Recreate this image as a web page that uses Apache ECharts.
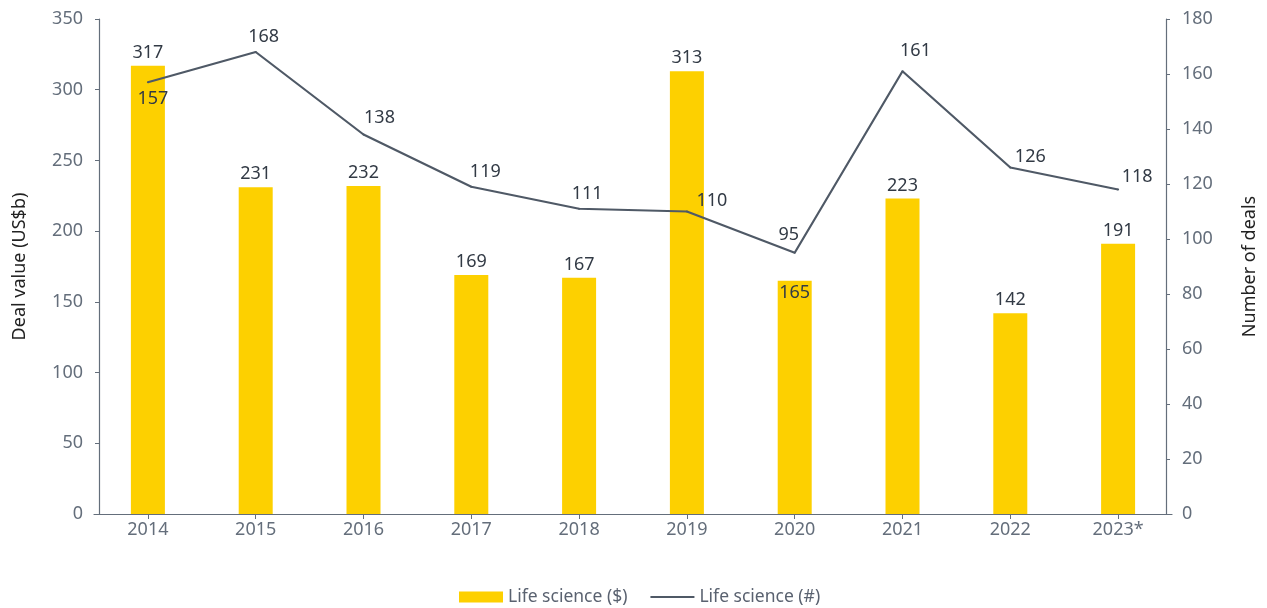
<!DOCTYPE html>
<html>
<head>
<meta charset="utf-8">
<script src="https://cdn.jsdelivr.net/npm/echarts@6/dist/echarts.min.js"></script>
<style>
  html, body { margin: 0; padding: 0; background: #fff; }
  #chart { width: 1267px; height: 608px; }
</style>
</head>
<body>
<div id="chart"></div>
<script>
// Life science deal activity, 2014–2023*
const years = ['2014', '2015', '2016', '2017', '2018', '2019', '2020', '2021', '2022', '2023*'];
const dealValue = [317, 231, 232, 169, 167, 313, 165, 223, 142, 191];   // US$b
const dealCount = [157, 168, 138, 119, 111, 110, 95, 161, 126, 118];    // number of deals
const leftTicks = { min: 0, max: 350, interval: 50 };
const rightTicks = { min: 0, max: 180, interval: 20 };

// per-point label nudges for the deal-count line [dx, dy]
const countLabelPos = ['bottom', 'top', 'top', 'top', 'top', 'top', 'top', 'top', 'top', 'top'];
const countLabelOffset = [[5, 2], [8, 0], [16, -2], [14, 0], [8, 0], [25, 4], [-6, -3], [13, -5], [20, 4], [19, 2]];
// bar label placement
const valueLabelPos = ['top', 'top', 'top', 'top', 'top', 'top', 'insideTop', 'top', 'top', 'top'];

const FONT = '"Noto Sans", "Open Sans", sans-serif';
const AXIS_COLOR = '#646e7b';
const LABEL_COLOR = '#323a45';
const BAR_COLOR = '#FDD000';
const LINE_COLOR = '#4f5966';

const chart = echarts.init(document.getElementById('chart'), null, { renderer: 'canvas' });

const axisCommon = {
  axisLine: { show: true, lineStyle: { color: AXIS_COLOR, width: 1.2 } },
  axisTick: { show: true, length: 4, lineStyle: { color: AXIS_COLOR } },
  splitLine: { show: false },
  axisLabel: { color: AXIS_COLOR, fontSize: 18, fontFamily: FONT, margin: 16 },
  nameLocation: 'middle',
  nameRotate: 90,
  nameTextStyle: { color: '#222', fontSize: 18, fontFamily: FONT }
};

chart.setOption({
  animation: false,
  textStyle: { fontFamily: FONT },
  grid: { left: 94, right: 90, top: 19, bottom: 94, containLabel: false },
  legend: {
    top: 583,
    left: 454,
    itemWidth: 44,
    itemHeight: 11,
    itemGap: 23,
    textStyle: { color: '#5a6270', fontSize: 17.5, fontFamily: FONT },
    data: [
      { name: 'Life science ($)', icon: 'rect' },
      { name: 'Life science (#)', icon: 'path://M0,0 L44,0 L44,2 L0,2 Z' }
    ]
  },
  xAxis: {
    type: 'category',
    data: years,
    axisLine: { show: true, lineStyle: { color: AXIS_COLOR, width: 1.2 } },
    axisTick: { show: true, alignWithLabel: true, length: 5, lineStyle: { color: AXIS_COLOR } },
    axisLabel: { color: AXIS_COLOR, fontSize: 18, fontFamily: FONT, margin: 7 }
  },
  yAxis: [
    Object.assign({}, axisCommon, {
      type: 'value',
      position: 'left',
      offset: -5,
      min: leftTicks.min, max: leftTicks.max, interval: leftTicks.interval,
      name: 'Deal value (US$b)',
      nameGap: 70
    }),
    Object.assign({}, axisCommon, {
      type: 'value',
      position: 'right',
      offset: -6,
      min: rightTicks.min, max: rightTicks.max, interval: rightTicks.interval,
      name: 'Number of deals',
      nameGap: 75
    })
  ],
  series: [
    {
      name: 'Life science ($)',
      type: 'bar',
      yAxisIndex: 0,
      barWidth: 34,
      itemStyle: { color: BAR_COLOR },
      data: dealValue.map((v, i) => ({
        value: v,
        label: { position: valueLabelPos[i], distance: valueLabelPos[i] === 'insideTop' ? 3 : 4 }
      })),
      label: { show: true, color: LABEL_COLOR, fontSize: 18, fontFamily: FONT }
    },
    {
      name: 'Life science (#)',
      type: 'line',
      yAxisIndex: 1,
      z: 3,
      symbol: 'circle',
      symbolSize: 2,
      itemStyle: { color: LINE_COLOR },
      lineStyle: { color: LINE_COLOR, width: 2.2 },
      data: dealCount.map((v, i) => ({
        value: v,
        label: { position: countLabelPos[i], offset: countLabelOffset[i] }
      })),
      label: { show: true, color: LABEL_COLOR, fontSize: 18, fontFamily: FONT, distance: 5 }
    }
  ]
});
</script>
</body>
</html>
